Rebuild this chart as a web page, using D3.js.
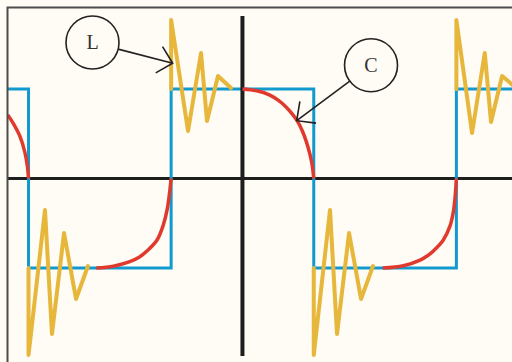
<!DOCTYPE html>
<html>
<head>
<meta charset="utf-8">
<script src="https://cdn.jsdelivr.net/npm/d3@7"></script>
<style>
  html, body { margin: 0; padding: 0; background: #fffbf5; }
  svg { display: block; }
</style>
</head>
<body>
<div id="chart"></div>
<script>
// square wave (source voltage), t in quarter periods
const squareT = [-3.4, -3, -3, -1, -1, 1, 1, 3, 3, 3.8];
const squareV = [1, 1, -1, -1, 1, 1, -1, -1, 1, 1];

// capacitor response, one array per visible piece
const capA = [[-3.29, 0.71], [-3.21, 0.61], [-3.12, 0.47], [-3.05, 0.29], [-3.015, 0.13], [-3, 0]];
const capB = [[-2.05, -1], [-1.81, -0.98], [-1.58, -0.93], [-1.45, -0.88], [-1.34, -0.81], [-1.2, -0.69],
              [-1.11, -0.52], [-1.054, -0.34], [-1.022, -0.16], [-1, 0]];
const capC = [[0, 1], [0.2, 0.98], [0.377, 0.935], [0.5, 0.875], [0.611, 0.8], [0.7, 0.72], [0.775, 0.635],
              [0.84, 0.53], [0.892, 0.42], [0.94, 0.29], [0.976, 0.16], [1, 0]];
const capD = [[1.967, -1], [2.256, -0.974], [2.491, -0.911], [2.6, -0.86], [2.677, -0.81], [2.817, -0.687],
              [2.911, -0.53], [2.958, -0.37], [2.984, -0.19], [3, 0]];

// inductor ringing at each edge
const indRise1 = [[-1, 1], [-1, 1.771], [-0.763, 0.531], [-0.581, 1.402], [-0.497, 0.642], [-0.343, 1.145], [-0.16, 1.011]];
const indRise2 = [[3, 1], [3, 1.771], [3.22, 0.508], [3.398, 1.402], [3.486, 0.631], [3.641, 1.145], [3.84, 1.011]];
const indFall1 = [[-3, -1], [-3, -1.972], [-2.769, -0.352], [-2.671, -1.737], [-2.502, -0.609], [-2.334, -1.346], [-2.166, -0.978]];
const indFall2 = [[1, -1], [1, -1.972], [1.228, -0.352], [1.326, -1.737], [1.495, -0.609], [1.663, -1.346], [1.831, -0.978]];

// callouts
const labels = ['L', 'C'];
const labelT = [-2.103, 1.803];
const labelV = [1.52, 1.265];
const tipT = [-0.978, 0.761];
const tipV = [1.287, 0.646];

const W = 512, H = 362;
const svg = d3.select('#chart').append('svg')
    .attr('width', W).attr('height', H);

svg.append('rect').attr('width', W).attr('height', H).attr('fill', '#fffbf5');

const x = d3.scaleLinear().domain([-3.4, 3.78]).range([0, 512]);
const y = d3.scaleLinear().domain([-1, 1]).range([268, 89]);

svg.append('clipPath').attr('id', 'plot')
    .append('rect').attr('x', 8).attr('y', 8).attr('width', W).attr('height', H);

const plot = svg.append('g').attr('clip-path', 'url(#plot)');

// horizontal axis
plot.append('line')
    .attr('x1', x(-3.4)).attr('x2', x(3.8))
    .attr('y1', y(0)).attr('y2', y(0))
    .attr('stroke', '#1e1e1e').attr('stroke-width', 3);

const line = d3.line().x(d => x(d[0])).y(d => y(d[1]));

// square wave
plot.append('path')
    .datum(squareT.map((t, i) => [t, squareV[i]]))
    .attr('d', line)
    .attr('fill', 'none')
    .attr('stroke', '#109acf')
    .attr('stroke-width', 3);

// vertical axis
plot.append('line')
    .attr('x1', x(0)).attr('x2', x(0))
    .attr('y1', y(1.816)).attr('y2', y(-1.983))
    .attr('stroke', '#1e1e1e').attr('stroke-width', 4);

// capacitor curve
const smooth = d3.line().x(d => x(d[0])).y(d => y(d[1])).curve(d3.curveCatmullRom.alpha(0.5));
plot.selectAll('.cap')
    .data([capA, capB, capC, capD])
    .enter().append('path')
    .attr('class', 'cap')
    .attr('d', smooth)
    .attr('fill', 'none')
    .attr('stroke', '#e03a2e')
    .attr('stroke-width', 3.5);

// inductor ringing
plot.selectAll('.ind')
    .data([indRise1, indRise2, indFall1, indFall2])
    .enter().append('path')
    .attr('class', 'ind')
    .attr('d', line)
    .attr('fill', 'none')
    .attr('stroke', '#e6b73b')
    .attr('stroke-width', 4)
    .attr('stroke-linejoin', 'round')
    .attr('stroke-linecap', 'round');

// frame
svg.append('path')
    .attr('d', `M7.5,${H} V7.5 H${W}`)
    .attr('fill', 'none')
    .attr('stroke', '#4d4d4d')
    .attr('stroke-width', 2);

// callouts
const r = 26.5, armLen = 19.5, armAng = 44 * Math.PI / 180;
labels.forEach((lab, i) => {
    const cx = x(labelT[i]), cy = y(labelV[i]);
    const tx = x(tipT[i]), ty = y(tipV[i]);
    const ang = Math.atan2(ty - cy, tx - cx);
    const g = svg.append('g').attr('stroke', '#222').attr('fill', 'none').attr('stroke-width', 1.6);
    g.append('circle').attr('cx', cx).attr('cy', cy).attr('r', r);
    g.append('line')
        .attr('x1', cx + r * Math.cos(ang)).attr('y1', cy + r * Math.sin(ang))
        .attr('x2', tx).attr('y2', ty);
    const back = ang + Math.PI;
    g.append('path')
        .attr('d', `M${tx + armLen * Math.cos(back - armAng)},${ty + armLen * Math.sin(back - armAng)}` +
                   `L${tx},${ty}` +
                   `L${tx + armLen * Math.cos(back + armAng)},${ty + armLen * Math.sin(back + armAng)}`);
    svg.append('text')
        .attr('x', cx).attr('y', cy)
        .attr('dy', '0.35em')
        .attr('text-anchor', 'middle')
        .style('font-family', '"Liberation Serif", "DejaVu Serif", serif')
        .style('font-size', '20px')
        .style('fill', '#333')
        .text(lab);
});
</script>
</body>
</html>
